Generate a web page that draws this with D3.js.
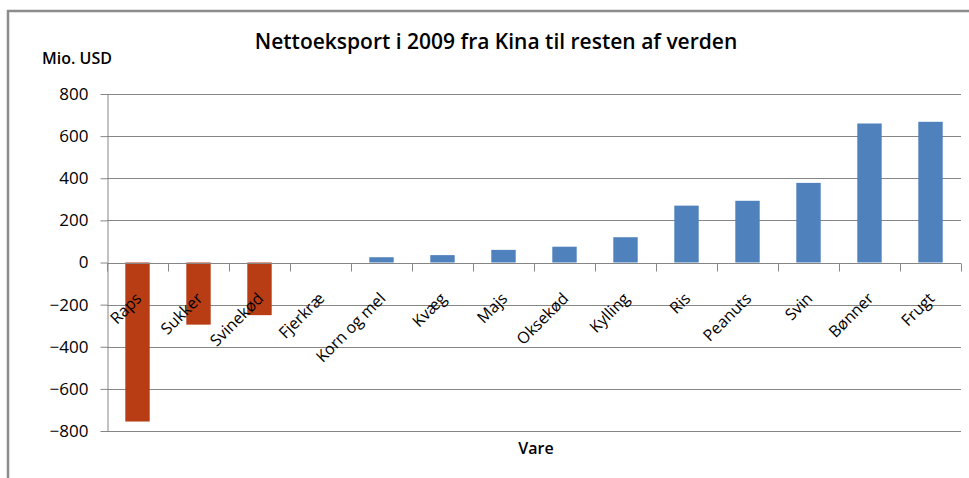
<!DOCTYPE html>
<html>
<head>
<meta charset="utf-8">
<script src="https://cdn.jsdelivr.net/npm/d3@7"></script>
<style>
  body { margin: 0; background: #fff; }
  svg { font-family: "Open Sans", Calibri, sans-serif; }
</style>
</head>
<body>
<div id="chart"></div>
<script>
// data (Mio. USD)
const categories = ['Raps', 'Sukker', 'Svinekød', 'Fjerkræ', 'Korn og mel', 'Kvæg', 'Majs',
    'Oksekød', 'Kylling', 'Ris', 'Peanuts', 'Svin', 'Bønner', 'Frugt'];
const values = [-755, -295, -250, 0, 25, 35, 60, 75, 120, 270, 293, 378, 660, 668];
const yTicks = [-800, -600, -400, -200, 0, 200, 400, 600, 800];

const width = 969, height = 478;
const margin = { top: 94, right: 8, bottom: 47, left: 107 };
const red = '#B83C14', blue = '#4F81BD', grey = '#868686';

const svg = d3.select('#chart')
    .append('svg')
    .attr('width', width)
    .attr('height', height);

// chart frame (only top and left edges are visible)
svg.append('rect')
    .attr('x', 8).attr('y', 11)
    .attr('width', width + 20).attr('height', height + 20)
    .attr('fill', 'none')
    .attr('stroke', '#8c8c8c')
    .attr('stroke-width', 2.5);

const x = d3.scaleBand()
    .domain(categories)
    .range([margin.left, width - margin.right])
    .paddingInner(0.6)
    .paddingOuter(0.3);

const y = d3.scaleLinear()
    .domain([-800, 800])
    .range([height - margin.bottom, margin.top]);

// gridlines
svg.append('g')
    .selectAll('line')
    .data(yTicks)
    .join('line')
    .attr('x1', margin.left).attr('x2', width - margin.right)
    .attr('y1', d => Math.round(y(d)) + 0.5).attr('y2', d => Math.round(y(d)) + 0.5)
    .attr('stroke', grey);

// y axis
const yAxis = svg.append('g')
    .attr('transform', `translate(${margin.left + 0.5},0)`)
    .call(d3.axisLeft(y).tickValues(yTicks).tickSize(7).tickPadding(12).tickSizeOuter(0));
yAxis.select('.domain').attr('stroke', grey);
yAxis.selectAll('.tick line').attr('stroke', grey);
yAxis.selectAll('.tick text')
    .attr('font-size', 17)
    .attr('fill', '#000')
    .style('font-family', '"Open Sans", sans-serif');

// bars
svg.append('g')
    .selectAll('rect')
    .data(values)
    .join('rect')
    .attr('x', (d, i) => x(categories[i]))
    .attr('width', x.bandwidth())
    .attr('y', d => y(Math.max(0, d)))
    .attr('height', d => Math.abs(y(d) - y(0)))
    .attr('fill', d => d < 0 ? red : blue);

// category axis at zero
const step = x.step();
const zeroY = Math.round(y(0)) + 0.5;
svg.append('line')
    .attr('x1', margin.left).attr('x2', width - margin.right)
    .attr('y1', zeroY).attr('y2', zeroY)
    .attr('stroke', grey);
svg.append('g')
    .selectAll('line')
    .data(d3.range(categories.length + 1))
    .join('line')
    .attr('x1', i => Math.round(margin.left + i * step) + 0.5)
    .attr('x2', i => Math.round(margin.left + i * step) + 0.5)
    .attr('y1', zeroY).attr('y2', zeroY + 8)
    .attr('stroke', grey);

// rotated category labels
svg.append('g')
    .selectAll('text')
    .data(categories)
    .join('text')
    .attr('transform', d => `translate(${x(d) + x.bandwidth() / 2 + 5},${y(0) + 37}) rotate(-45)`)
    .attr('text-anchor', 'end')
    .attr('font-size', 16)
    .text(d => d);

// titles
svg.append('text')
    .attr('x', 496).attr('y', 49)
    .attr('text-anchor', 'middle')
    .attr('font-size', 21)
    .attr('font-weight', 600)
    .text('Nettoeksport i 2009 fra Kina til resten af verden');

svg.append('text')
    .attr('x', 42).attr('y', 64)
    .attr('font-size', 16)
    .attr('font-weight', 600)
    .text('Mio. USD');

svg.append('text')
    .attr('x', 536).attr('y', 454)
    .attr('text-anchor', 'middle')
    .attr('font-size', 16)
    .attr('font-weight', 600)
    .text('Vare');
</script>
</body>
</html>
